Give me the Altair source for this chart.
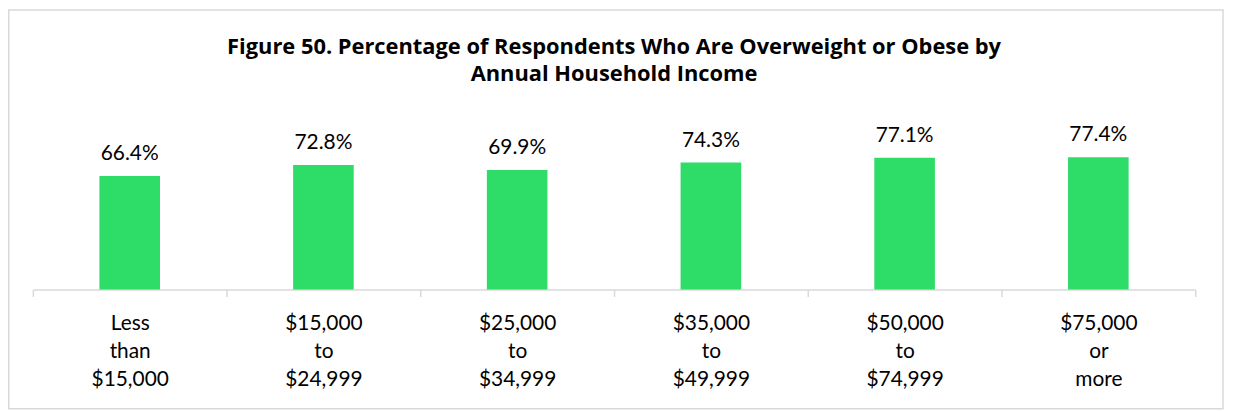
import altair as alt
import pandas as pd

categories = ["Less|than|$15,000", "$15,000|to|$24,999", "$25,000|to|$34,999",
              "$35,000|to|$49,999", "$50,000|to|$74,999", "$75,000|or|more"]
values = [66.4, 72.8, 69.9, 74.3, 77.1, 77.4]
title_lines = ["Figure 50. Percentage of Respondents Who Are Overweight or Obese by",
               "Annual Household Income"]

df = pd.DataFrame({"income": categories, "pct": values})
FONT = "Lato"

x = alt.X("income:N", sort=categories, title=None,
          scale=alt.Scale(paddingInner=0, paddingOuter=0),
          axis=alt.Axis(labelExpr="split(datum.label, '|')", labelAngle=0,
                        labelFontSize=21, labelFont=FONT, labelColor="#000000",
                        labelLineHeight=28.5, labelPadding=16, labelBaseline="top",
                        tickBand="extent", tickSize=7, tickColor="#d9d9d9",
                        tickWidth=1.5, domainColor="#d9d9d9", domainWidth=1.5))
y = alt.Y("pct:Q", scale=alt.Scale(domain=[0, 100]), axis=None)

base = alt.Chart(df).encode(x=x, y=y)
bars = base.mark_bar(size=61, color="#2EDC68")
labels = base.transform_calculate(
    lbl="format(datum.pct, '.1f') + '%'"
).mark_text(dy=-16, baseline="alphabetic", fontSize=21, font=FONT,
            color="#000000").encode(text="lbl:N")

border = alt.Chart(pd.DataFrame({"a": [0]})).mark_rect(
    fillOpacity=0, stroke="#d9d9d9", strokeWidth=1.5
).encode(x=alt.value(-24.25), x2=alt.value(1198),
         y=alt.value(-109.25), y2=alt.value(292))

chart = alt.layer(border, bars, labels).properties(
    width=1170, height=172,
    autosize="none",
    padding={"left": 25, "top": 110, "right": 30, "bottom": 122},
    title=alt.TitleParams(text=title_lines, fontSize=22, font="Open Sans",
                          fontWeight="bold", lineHeight=27.5, anchor="middle",
                          offset=-77, color="#000000"),
).configure_view(stroke="transparent")

chart.save("out.html", embed_options={"renderer": "svg", "actions": False})
